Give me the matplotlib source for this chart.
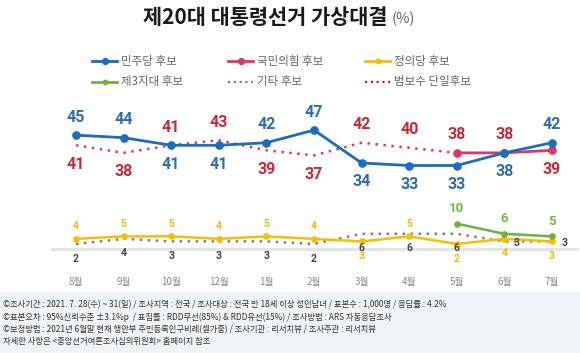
import matplotlib
matplotlib.use("Agg")
import matplotlib.pyplot as plt
from matplotlib.lines import Line2D
from matplotlib.patches import Rectangle

# ---------------- data ----------------
months = ["8월", "9월", "10월", "12월", "1월", "2월", "3월", "4월", "5월", "6월", "7월"]
minju = [45, 44, 41, 41, 42, 47, 34, 33, 33, 38, 42]
beombosu = [41, 38, 41, 43, 39, 37, 42, 40, 38]          # 8월 ~ 5월
gukmin = [38, 38, 39]                                     # 5월 ~ 7월
jeongui = [4, 5, 5, 4, 5, 4, 3, 5, 2, 4, 3]
third = [10, 6, 5]                                        # 5월 ~ 7월
etc = [2, 4, 3, 3, 3, 2, 6, 6, 6, 3, 3]

minju_pos = ["a", "a", "b", "b", "a", "a", "b", "b", "b", "b", "a"]
beombosu_pos = ["b", "b", "a", "a", "b", "b", "a", "a", "a"]
gukmin_pos = [None, "a", "b"]
jeongui_pos = ["a", "a", "a", "a", "a", "a", "b", "a", "b", "b", "b"]
etc_pos = ["b", "b", "b", "b", "b", "b", "b", "b", "b", "r", "r"]

legend_labels = ["민주당 후보", "국민의힘 후보", "정의당 후보", "제3지대 후보", "기타 후보", "범보수 단일후보"]
footer_lines = [
    "©조사기간 : 2021. 7. 28(수) ~ 31(일) / 조사지역 : 전국 / 조사대상 : 전국 만 18세 이상 성인남녀 / 표본수 : 1,000명 / 응답률 : 4.2%",
    "©표본오차 : 95%신뢰수준 ±3.1%p  / 표집틀 : RDD무선(85%) & RDD유선(15%) / 조사방법 : ARS 자동응답조사",
    "©보정방법 : 2021년 6월말 현재 행안부 주민등록인구비례(셀가중) / 조사기관 : 리서치뷰 / 조사주관 : 리서치뷰",
    "자세한 사항은 <중앙선거여론조사심의위원회> 홈페이지 참조",
]

# ---------------- style ----------------
KR = ["Noto Sans CJK KR", "DejaVu Sans"]
NUM = ["Roboto", "DejaVu Sans"]
plt.rcParams["font.family"] = KR

BLUE = "#1a6dbf"
BLUE_T = "#2f6cb6"
PINK = "#d8386b"
RED_T = "#c9293b"
RED_DOT = "#e03a62"
YEL = "#f8be00"
YEL_T = "#f6b800"
GRN = "#6db33f"
GRN_T = "#74b743"
GRY = "#808080"
GRY_T = "#444444"

W, H = 580, 353
fig = plt.figure(figsize=(W / 100, H / 100), dpi=100)


def fx(x):
    return x / W


def fy(y):
    return 1 - y / H


# axes geometry (pixels)
L, R, T, B = 52, 577, 100, 249
ax = fig.add_axes([fx(L), fy(B), fx(R - L), (B - T) / H])
ax.set_xlim(-0.504, 10.525)
ax.set_ylim(0, (B - T) / 2.53)
for s in ax.spines.values():
    s.set_visible(False)
ax.set_yticks([])
ax.set_xticks(range(len(months)))
ax.set_xticklabels(months, fontsize=7, color="#8a8a8a")
ax.tick_params(axis="x", length=0, pad=20)
ax.axhline(0, color="#e4e4e4", lw=2.2, zorder=0, clip_on=False)
ax.patch.set_alpha(0)

x_all = list(range(len(months)))
x_b = list(range(len(beombosu)))
x_late = list(range(8, 11))

# lines
ax.plot(x_b, beombosu, ls=(0, (1, 2.2)), color=RED_DOT, lw=1.8, zorder=3, clip_on=False)
ax.plot(x_all, etc, ls=(0, (1, 2.2)), color=GRY, lw=1.8, zorder=2, clip_on=False)
ax.plot(x_all, jeongui, color=YEL, lw=1.8, marker="o", ms=3.8, zorder=3, clip_on=False)
ax.plot(x_late, third, color=GRN, lw=1.8, marker="o", ms=3.8, zorder=3, clip_on=False)
ax.plot(x_late, gukmin, color=PINK, lw=2.0, marker="o", ms=5.2, zorder=4, clip_on=False)
ax.plot(x_all, minju, color=BLUE, lw=2.0, marker="o", ms=5.2, zorder=5, clip_on=False)


def lab(x, y, pos, color, size, up=13, down=13.5, bold=True):
    if pos is None:
        return
    if pos == "a":
        off = (0, up)
    elif pos == "b":
        off = (0, -down)
    else:
        off = (9, -1)
    ax.annotate(str(y), (x, y), xytext=off, textcoords="offset points",
                ha="center", va="center", fontsize=size, color=color,
                family=NUM, fontweight="bold" if bold else "medium", zorder=6,
                annotation_clip=False)


for i, v in enumerate(minju):
    lab(i, v, minju_pos[i], BLUE_T, 11.5)
for i, v in enumerate(beombosu):
    lab(i, v, beombosu_pos[i], RED_T, 11.5)
for i, v in enumerate(gukmin):
    lab(x_late[i], v, gukmin_pos[i], RED_T, 11.5)
for i, v in enumerate(jeongui):
    lab(i, v, jeongui_pos[i], YEL_T, 7.5, up=9, down=10.5)
for i, v in enumerate(third):
    lab(x_late[i], v, "a", GRN_T, 9.5, up=11)
for i, v in enumerate(etc):
    lab(i, v, etc_pos[i], GRY_T, 7.5, down=10.5)

# ---------------- title ----------------
t1 = fig.text(0, fy(18), "제20대 대통령선거 가상대결", fontsize=15, fontweight="black",
              color="#1a1a1a", ha="left", va="center", family=KR)
t2 = fig.text(0, fy(19), "(%)", fontsize=10.5, color="#666666", ha="left", va="center",
              family=KR)
fig.canvas.draw()
r = fig.canvas.get_renderer()
w1 = t1.get_window_extent(r).width
w2 = t2.get_window_extent(r).width
gap = 4
start = 279 - (w1 + gap + w2) / 2
t1.set_x(fx(start))
t2.set_x(fx(start + w1 + gap))

# ---------------- legend ----------------
leg_cols = [92, 228, 365]
leg_rows = [61, 82]
styles = [
    dict(color=BLUE, lw=2.0, marker="o", ms=4.2, ls="-"),
    dict(color=PINK, lw=2.0, marker="o", ms=4.2, ls="-"),
    dict(color=YEL, lw=2.0, marker="o", ms=3.2, ls="-"),
    dict(color=GRN, lw=2.0, marker="o", ms=3.2, ls="-"),
    dict(color=GRY, lw=1.6, ls=(0, (1, 1.6))),
    dict(color="#e0102a", lw=1.6, ls=(0, (1, 1.6))),
]
for k, (txt, st) in enumerate(zip(legend_labels, styles)):
    cx = leg_cols[k % 3]
    cy = leg_rows[k // 3]
    st = dict(st)
    marker = st.pop("marker", None)
    ms = st.pop("ms", None)
    fig.add_artist(Line2D([fx(cx), fx(cx + 25)], [fy(cy), fy(cy)], transform=fig.transFigure, **st))
    if marker:
        fig.add_artist(Line2D([fx(cx + 12.5)], [fy(cy)], marker=marker, ms=ms, color=st["color"],
                              ls="none", transform=fig.transFigure))
    fig.text(fx(cx + 29), fy(cy), txt, fontsize=8.3, color="#666666", ha="left", va="center",
             family=KR)

# ---------------- footer ----------------
fig.add_artist(Rectangle((0, 0), 1, fy(292), transform=fig.transFigure, color="#eef4f8",
                         zorder=0))
for k, line in enumerate(footer_lines):
    fig.text(fx(3), fy(305 + k * 12.3), line, fontsize=6.0, color="#333333", ha="left",
             va="center", family=KR)

fig.savefig("out.png", dpi=100)
